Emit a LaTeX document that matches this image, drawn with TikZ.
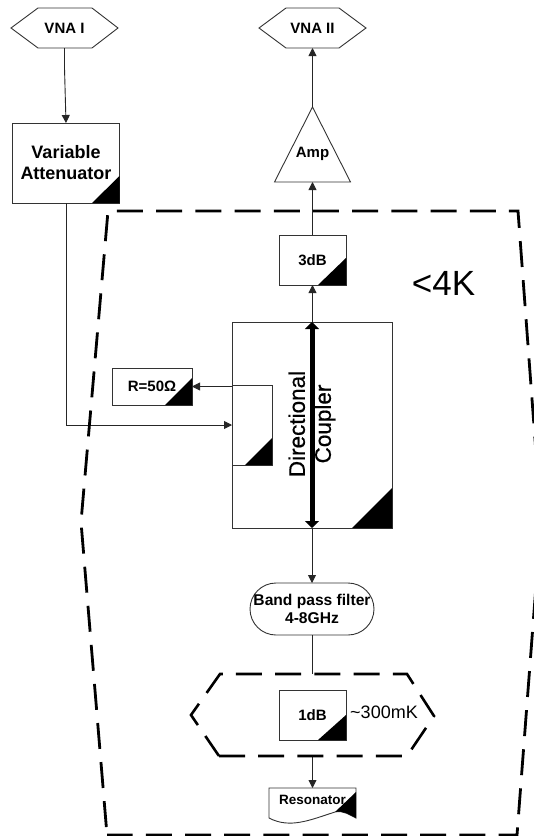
\documentclass[tikz,border=0pt]{standalone}
\usepackage{fontspec}
\setmainfont{Liberation Sans}
\usetikzlibrary{arrows.meta}
\newcommand{\cornermark}[3]{\fill (#1.south east) -- ++(-#2,0) -- ++(#2,-#3) -- cycle;}
\newcommand{\fsz}[1]{\fontsize{#1}{#1}\selectfont}
\tikzset{
  x=1pt,y=-1pt,
  every node/.style={inner sep=0pt,outer sep=0pt,align=center,text=black},
  blk/.style={draw=black!80,line width=0.9pt},
  lbl/.style={font=\fsz{15}\bfseries},
  boxn/.style={blk,lbl,minimum width=#1},
  ghost/.style={lbl},
  conn/.style={draw=black!85,line width=0.9pt},
  arr/.style={conn,-{Triangle[width=8pt,length=8pt]}},
  zone/.style={draw=black,line width=2.8pt,dash pattern=on 26pt off 13.2pt},
}
\begin{document}
\begin{tikzpicture}
\useasboundingbox (0,0) rectangle (534,836);
\fill[white] (0,0) rectangle (534,836);

% nodes
\node[ghost,minimum width=107pt,minimum height=40pt] (vnaone) at (64.5,28) {VNA I};
\node[ghost,minimum width=107pt,minimum height=40pt] (vnatwo) at (312.5,28) {VNA II};
\node[blk,minimum width=107pt,minimum height=80pt,font=\fontsize{18}{21}\selectfont\bfseries] (var) at (66,163) {Variable\\[0pt]Attenuator};
\node[minimum width=76pt,minimum height=75pt,label={[lbl,yshift=-9.5pt]center:Amp}] (amp) at (312.5,144.5) {};
\node[boxn=67pt,minimum height=50pt] (threedb) at (312.5,260) {3dB};
\node[blk,minimum width=160pt,minimum height=206pt] (coupler) at (312,425) {};
\node[blk,minimum width=40pt,minimum height=80pt] (inner) at (252,425) {};
\node[boxn=80pt,minimum height=37pt] (rfifty) at (152,386.5) {R=50Ω};
\node[blk,rounded corners=26pt,minimum width=124pt,minimum height=52pt,font=\fontsize{15.6}{18}\selectfont\bfseries] (band) at (312,609) {Band pass filter\\[0pt]4-8GHz};
\node[minimum width=243pt,minimum height=82pt] (cold) at (312.5,715) {};
\node[boxn=67pt,minimum height=50pt] (onedb) at (312.5,715) {1dB};
\node[minimum width=87pt,minimum height=30pt,label={[font=\fsz{13.5}\bfseries,yshift=3pt]center:Resonator}] (res) at (312.5,803) {};
\node[font=\fsz{18}] (tempmk) at (384,712) {\textasciitilde300mK};
\node[font=\fsz{35}] (tempk) at (443.5,283) {<4K};
\node[font=\fontsize{22.5}{26}\selectfont\addfontfeature{FakeBold=0.6},rotate=90] (dirtext) at (312,424) {Directional\\[0pt]Coupler};

% outlines of shaped nodes
\draw[blk] (vnaone.west) -- (38,8) -- (92,8) -- (vnaone.east) -- (92,48) -- (38,48) -- cycle;
\draw[blk] (vnatwo.west) -- (286,8) -- (339,8) -- (vnatwo.east) -- (339,48) -- (286,48) -- cycle;
\draw[blk] (amp.north) -- (amp.south east) -- (amp.south west) -- cycle;
\draw[blk] (res.south west) -- (res.north west) -- (res.north east) -- (res.south east)
  .. controls (350,815) and (343,810) .. (335,812)
  .. controls (310,820) and (290,829) .. (res.south west);

% corner marks
\cornermark{var}{27.5}{27}
\cornermark{threedb}{28}{27}
\cornermark{coupler}{40}{40}
\cornermark{inner}{27}{27}
\cornermark{rfifty}{27}{27}
\cornermark{onedb}{28}{25}
\fill (res.north east) ++(0,4) -- (335,812) .. controls (343,810) and (350,815) .. (res.south east) -- cycle;

% connectors
\draw[arr] (vnaone.south) -- ++(0,20) -- (var.north);
\draw[arr] (var.south) |- (inner.west);
\draw[arr] (inner.west |- rfifty.east) -- (rfifty.east);
\draw[arr] (threedb.north) -- (amp.south);
\draw[arr] (amp.north) -- (vnatwo.south);
\draw[arr] (coupler.north -| threedb.south) -- (threedb.south);
\draw[draw=black,line width=5pt,{Triangle[width=14pt,length=7pt]}-{Triangle[width=14pt,length=7pt]}] (coupler.north) -- (coupler.south);
\draw[arr] (coupler.south) -- (band.north);
\draw[conn] (band.south) -- (cold.north -| band.south);
\draw[arr] (cold.south) -- (res.north);

% dashed temperature regions
\draw[zone,dash phase=31.2pt] (107,835) -- (81,522) -- (108,211) -- (518,211) -- (541,520) -- (517,835) -- (107,835);
\draw[zone,line width=2.6pt] (219,756) -- (407,756) -- (434,716) -- (407,674) -- (220,674) -- (191,715) -- (219,756);
\end{tikzpicture}
\end{document}
